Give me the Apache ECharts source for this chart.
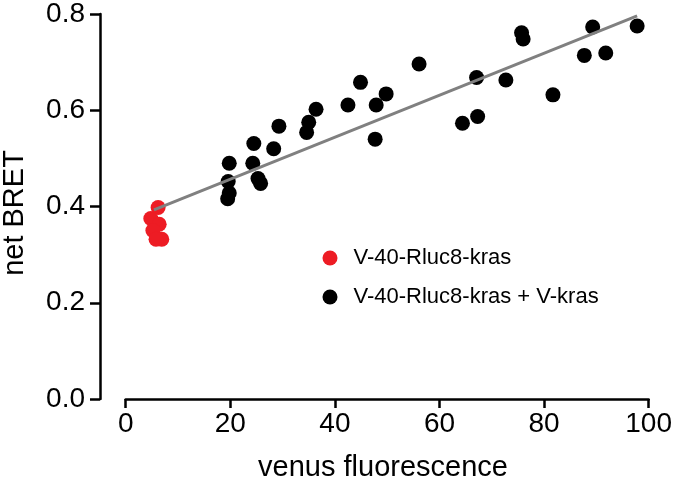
<!DOCTYPE html>
<html>
<head>
<meta charset="utf-8">
<script src="https://cdn.jsdelivr.net/npm/echarts@6/dist/echarts.min.js"></script>
<style>html,body{margin:0;padding:0;background:#fff}#c{width:675px;height:488px}</style>
</head>
<body>
<div id="c"></div>
<script>
const xTicks = [0, 20, 40, 60, 80, 100];
const yTicks = [0.0, 0.2, 0.4, 0.6, 0.8];
const redName = 'V-40-Rluc8-kras';
const blackName = 'V-40-Rluc8-kras + V-kras';
const redX = [6.2, 4.8, 6.4, 5.2, 6.9, 5.8];
const redY = [0.398, 0.375, 0.363, 0.350, 0.332, 0.332];
const blackX = [19.8, 19.6, 19.8, 19.5, 24.5, 24.3, 25.3, 25.8, 28.3, 29.3, 34.6, 35.0, 36.4, 42.5, 44.9, 47.9, 49.8, 47.7, 56.1, 64.4, 67.1, 67.3, 72.7, 75.7, 76.0, 81.7, 87.7, 89.3, 91.8, 97.8];
const blackY = [0.490, 0.452, 0.428, 0.416, 0.531, 0.490, 0.458, 0.448, 0.520, 0.567, 0.554, 0.575, 0.602, 0.611, 0.658, 0.611, 0.634, 0.540, 0.696, 0.573, 0.668, 0.587, 0.663, 0.761, 0.748, 0.632, 0.714, 0.773, 0.719, 0.775];
const fitX = [5.4, 97.8];
const fitY = [0.393, 0.796];
const xTitle = 'venus fluorescence';
const yTitle = 'net BRET';

const zip = (a, b) => a.map((v, i) => [v, b[i]]);
const FONT = '"Liberation Sans", Arial, sans-serif';
const chart = echarts.init(document.getElementById('c'), null, {renderer: 'canvas'});
chart.setOption({
  animation: false,
  backgroundColor: '#fff',
  grid: {left: 125.7, right: 25, top: 13, bottom: 89, containLabel: false},
  xAxis: {
    type: 'value', min: xTicks[0], max: xTicks[xTicks.length - 1], interval: 20,
    splitLine: {show: false},
    axisLine: {onZero: false, lineStyle: {color: '#000', width: 2.5}},
    axisTick: {length: 9, lineStyle: {color: '#000', width: 2.5}},
    axisLabel: {color: '#000', fontSize: 28, fontFamily: FONT, margin: 11}
  },
  yAxis: {
    type: 'value', min: yTicks[0], max: yTicks[yTicks.length - 1], interval: 0.2,
    offset: 25.7,
    splitLine: {show: false},
    axisLine: {show: true, onZero: false, lineStyle: {color: '#000', width: 2.5}},
    axisTick: {show: true, length: 10, lineStyle: {color: '#000', width: 2.5}},
    axisLabel: {color: '#000', fontSize: 28, fontFamily: FONT, margin: 15, formatter: v => v.toFixed(1)}
  },
  legend: {
    orient: 'vertical', left: 317.5, top: 242,
    itemWidth: 15, itemHeight: 15, itemGap: 17,
    icon: 'circle',
    textStyle: {color: '#000', fontSize: 22, fontFamily: FONT, padding: [0, 0, 0, 11]},
    data: [redName, blackName]
  },
  graphic: [
    {type: 'text', x: 383, y: 468, style: {text: xTitle, fill: '#000', font: '29px ' + FONT, align: 'center', verticalAlign: 'middle'}},
    {type: 'text', x: 15, y: 213, rotation: Math.PI / 2, style: {text: yTitle, fill: '#000', font: '29px ' + FONT, align: 'center', verticalAlign: 'middle'}}
  ],
  series: [
    {name: redName, type: 'scatter', data: zip(redX, redY), symbolSize: 15, itemStyle: {color: '#ED1C24', opacity: 1}, z: 2},
    {name: blackName, type: 'scatter', data: zip(blackX, blackY), symbolSize: 15, itemStyle: {color: '#000', opacity: 1}, z: 2},
    {name: 'fit', type: 'line', data: zip(fitX, fitY), showSymbol: false, symbol: 'none', lineStyle: {color: '#808080', width: 3}, z: 3, silent: true}
  ]
});
</script>
</body>
</html>
